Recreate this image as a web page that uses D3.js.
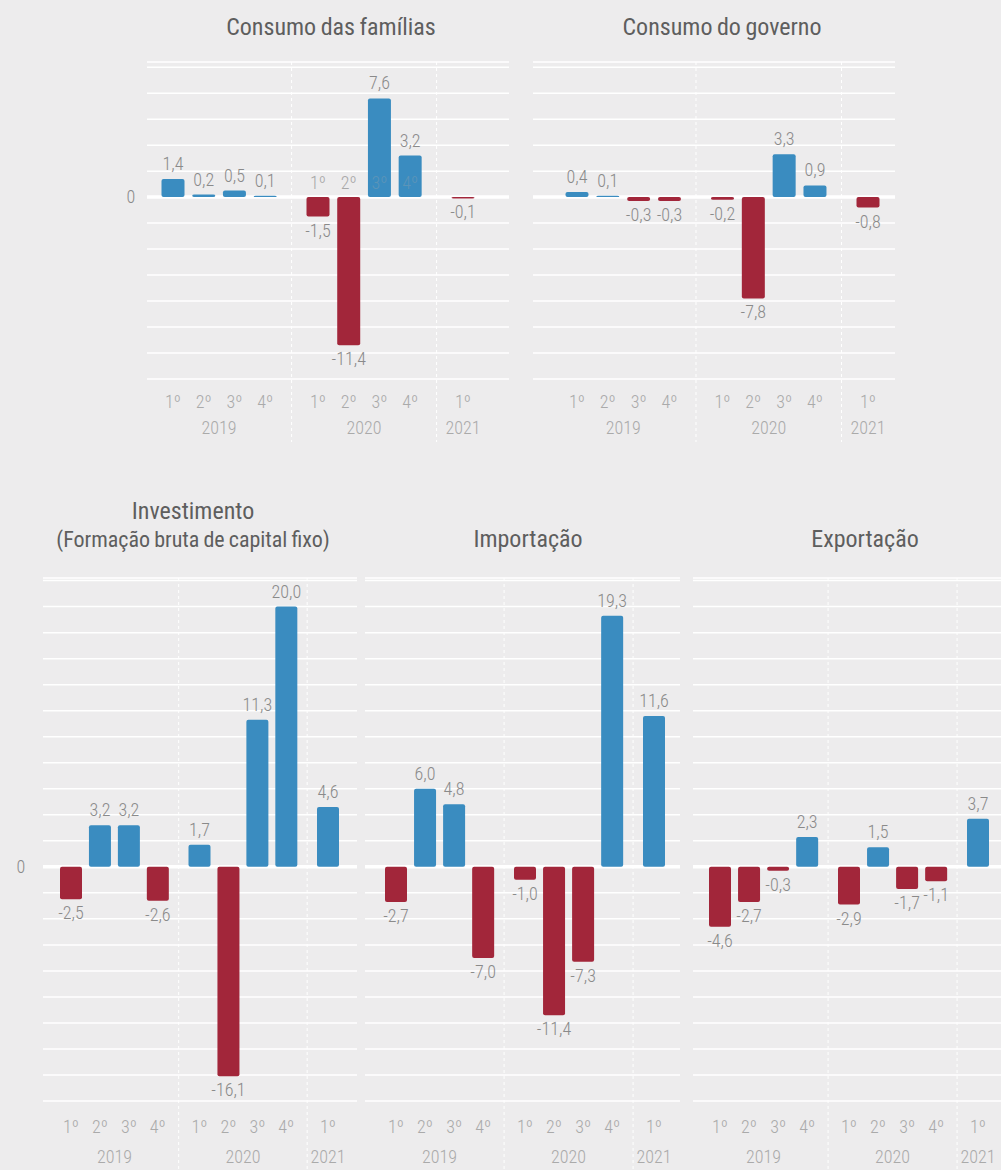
<!DOCTYPE html>
<html lang="pt">
<head>
<meta charset="utf-8">
<script src="https://cdn.jsdelivr.net/npm/d3@7"></script>
<style>
  body { margin: 0; background: #edeced; }
  svg { display: block; font-family: "Roboto Condensed", "Liberation Sans Narrow", "DejaVu Sans Condensed", sans-serif; }
</style>
</head>
<body>
<div id="chart"></div>
<script>
// Quarterly change (%) by component, 2019 Q1 - 2021 Q1
const quarters = ['1º', '2º', '3º', '4º', '1º', '2º', '3º', '4º', '1º'];
const years = ['2019', '2019', '2019', '2019', '2020', '2020', '2020', '2020', '2021'];
const yearGroups = ['2019', '2020', '2021'];

const consumoFamilias = [1.4, 0.2, 0.5, 0.1, -1.5, -11.4, 7.6, 3.2, -0.1];
const consumoGoverno = [0.4, 0.1, -0.3, -0.3, -0.2, -7.8, 3.3, 0.9, -0.8];
const investimento = [-2.5, 3.2, 3.2, -2.6, 1.7, -16.1, 11.3, 20.0, 4.6];
const importacao = [-2.7, 6.0, 4.8, -7.0, -1.0, -11.4, -7.3, 19.3, 11.6];
const exportacao = [-4.6, -2.7, -0.3, 2.3, -2.9, 1.5, -1.7, -1.1, 3.7];

const width = 1001;
const height = 1170;

const colorPos = '#3a8cc0';
const colorNeg = '#a2263a';

// pt-BR number format: comma decimal, plain hyphen minus
const fmt = d3.formatLocale({
  decimal: ',', thousands: '.', grouping: [3], currency: ['R$', ''], minus: '-'
}).format('.1f');

// Row layouts (vertical scale is shared inside a row)
const rowLayout = {
  top: {
    domain: [-14, 10.4], range: [379, 62], gapSteps: 1.72, barW: 23,
    qLabelY: 408, yearLabelY: 434, sepBottom: 442
  },
  bottom: {
    domain: [-18, 22.2], range: [1101, 578], gapSteps: 1.44, barW: 22,
    qLabelY: 1133, yearLabelY: 1163, sepBottom: 1170
  }
};

const panels = [
  { title: ['Consumo das famílias'], titleSize: [24], titleX: 331, titleY: [35], values: consumoFamilias,
    row: 'top', gridX: [147, 509], barsX: [173, 463], zeroLabelX: 131, ghost: true },
  { title: ['Consumo do governo'], titleSize: [24], titleX: 722, titleY: [35], values: consumoGoverno,
    row: 'top', gridX: [533, 895], barsX: [577, 868] },
  { title: ['Investimento', '(Formação bruta de capital fixo)'], titleSize: [24, 22], titleX: 193, titleY: [519, 547],
    values: investimento, row: 'bottom', gridX: [43, 357], barsX: [71, 328], zeroLabelX: 21 },
  { title: ['Importação'], titleSize: [24], titleX: 528, titleY: [547], values: importacao,
    row: 'bottom', gridX: [365, 680], barsX: [396, 654] },
  { title: ['Exportação'], titleSize: [24], titleX: 865, titleY: [547], values: exportacao,
    row: 'bottom', gridX: [693, 1001], barsX: [720, 978] }
];

const svg = d3.select('#chart')
  .append('svg')
  .attr('width', width)
  .attr('height', height);

svg.append('rect')
  .attr('width', width)
  .attr('height', height)
  .attr('fill', '#edeced');

panels.forEach(p => drawPanel(p));

function drawPanel(p) {
  const L = rowLayout[p.row];
  const g = svg.append('g');

  const yScale = d3.scaleLinear().domain(L.domain).range(L.range);

  // slot position: quarters within a year are 1 step apart, years separated by a wider gap
  const groupSpan = 3 + L.gapSteps;
  const slot = i => {
    const k = yearGroups.indexOf(years[i]);
    const first = years.indexOf(years[i]);
    return k * groupSpan + (i - first);
  };
  const xScale = d3.scaleLinear()
    .domain([0, 2 * groupSpan])
    .range(p.barsX);

  // horizontal grid
  const ticks = d3.range(L.domain[0], 0, 2)
    .concat(d3.range(2, L.domain[1], 2))
    .concat([L.domain[1]]);
  g.selectAll('.grid')
    .data(ticks)
    .enter().append('line')
    .attr('class', 'grid')
    .attr('x1', p.gridX[0])
    .attr('x2', p.gridX[1])
    .attr('y1', d => yScale(d))
    .attr('y2', d => yScale(d))
    .attr('stroke', '#ffffff')
    .attr('stroke-width', 1.5);

  // dashed separators between years
  const seps = [3 + L.gapSteps / 2, groupSpan + 3 + L.gapSteps / 2];
  g.selectAll('.sep')
    .data(seps)
    .enter().append('line')
    .attr('class', 'sep')
    .attr('x1', d => xScale(d))
    .attr('x2', d => xScale(d))
    .attr('y1', yScale(L.domain[1]))
    .attr('y2', L.sepBottom)
    .attr('stroke', '#ffffff')
    .attr('stroke-width', 1)
    .attr('stroke-dasharray', '3,3');

  // zero line
  g.append('line')
    .attr('x1', p.gridX[0])
    .attr('x2', p.gridX[1])
    .attr('y1', yScale(0))
    .attr('y2', yScale(0))
    .attr('stroke', '#ffffff')
    .attr('stroke-width', 3.5);

  if (p.zeroLabelX !== undefined) {
    g.append('text')
      .attr('x', p.zeroLabelX)
      .attr('y', yScale(0) + 6)
      .attr('text-anchor', 'middle')
      .style('font-size', '18px')
      .style('font-weight', 300)
      .style('fill', '#8a8a8a')
      .text('0');
  }

  // bars
  g.selectAll('.bar')
    .data(p.values)
    .enter().append('rect')
    .attr('class', 'bar')
    .attr('x', (d, i) => xScale(slot(i)) - L.barW / 2)
    .attr('width', L.barW)
    .attr('y', d => Math.min(yScale(d), yScale(0)))
    .attr('height', d => Math.max(1, Math.abs(yScale(d) - yScale(0))))
    .attr('rx', 2)
    .attr('fill', d => d >= 0 ? colorPos : colorNeg);

  // value labels
  g.selectAll('.val')
    .data(p.values)
    .enter().append('text')
    .attr('class', 'val')
    .attr('x', (d, i) => xScale(slot(i)))
    .attr('y', d => d >= 0 ? yScale(d) - 9 : yScale(d) + 20)
    .attr('text-anchor', 'middle')
    .style('font-size', '18px')
    .style('font-weight', 300)
    .style('fill', '#8a8a8a')
    .text(d => fmt(d));

  // stray quarter labels left inside the first panel of the original
  if (p.ghost) {
    g.selectAll('.ghost')
      .data(p.values.map((v, i) => ({ v, i })).filter(d => years[d.i] === '2020'))
      .enter().append('text')
      .attr('class', 'ghost')
      .attr('x', d => xScale(slot(d.i)))
      .attr('y', yScale(0) - 8)
      .attr('text-anchor', 'middle')
      .style('font-size', '18px')
      .style('font-weight', 300)
      .style('fill', '#a8a8a8')
      .style('opacity', d => d.v > 1 ? 0.3 : 1)
      .text(d => quarters[d.i]);
  }

  // quarter labels
  g.selectAll('.q')
    .data(quarters)
    .enter().append('text')
    .attr('class', 'q')
    .attr('x', (d, i) => xScale(slot(i)))
    .attr('y', L.qLabelY)
    .attr('text-anchor', 'middle')
    .style('font-size', '18px')
    .style('font-weight', 300)
    .style('fill', '#aaaaaa')
    .text(d => d);

  // year labels, centred under their quarters
  g.selectAll('.year')
    .data(yearGroups)
    .enter().append('text')
    .attr('class', 'year')
    .attr('x', yr => {
      const idx = d3.range(years.length).filter(i => years[i] === yr);
      return d3.mean(idx, i => xScale(slot(i)));
    })
    .attr('y', L.yearLabelY)
    .attr('text-anchor', 'middle')
    .style('font-size', '18px')
    .style('font-weight', 300)
    .style('fill', '#aaaaaa')
    .text(d => d);

  // title
  p.title.forEach((t, j) => {
    g.append('text')
      .attr('x', p.titleX)
      .attr('y', p.titleY[j])
      .attr('text-anchor', 'middle')
      .style('font-size', p.titleSize[j] + 'px')
      .style('word-spacing', '-1px')
      .style('fill', '#5e5e5e')
      .text(t);
  });
}
</script>
</body>
</html>
